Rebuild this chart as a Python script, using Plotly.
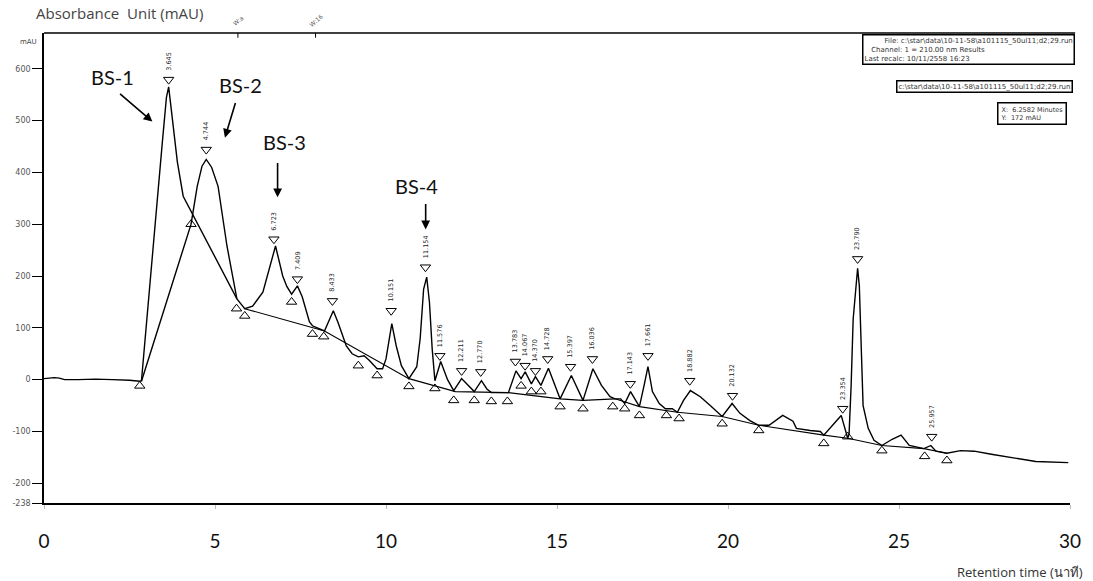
import plotly.graph_objects as go

# ---------------- data ----------------
# main chromatogram trace (minutes, mAU)
trace_t = [0.0, 0.3, 0.45, 0.6, 1.0, 1.5, 2.0, 2.3, 2.5, 2.8, 2.85, 3.46, 3.58, 3.645, 3.72, 3.9, 4.07,
           5.64, 5.87, 6.1, 6.4, 6.6, 6.77, 6.98, 7.1, 7.24, 7.41, 7.55, 7.67, 7.76, 7.85, 8.2, 8.46, 8.6,
           8.84, 9.01, 9.19, 9.36, 9.5, 9.74, 9.9, 10.0, 10.17, 10.3, 10.45, 10.67, 10.9, 11.0, 11.1,
           11.19, 11.27, 11.35, 11.43, 11.6, 11.8, 11.98, 12.21, 12.4, 12.58, 12.79, 12.95, 13.08,
           13.58, 13.8, 13.95, 14.07, 14.25, 14.37, 14.53, 14.75, 14.94, 15.09, 15.42, 15.76, 16.05,
           16.3, 16.55, 16.7, 16.86, 16.98, 17.15, 17.41, 17.55, 17.66, 17.79, 17.99, 18.17, 18.37,
           18.52, 18.7, 18.9, 19.19, 19.48, 19.83, 20.12, 20.35, 20.64, 20.9, 21.2, 21.6, 21.9, 22.0,
           22.4, 22.7, 22.8, 23.31, 23.5, 23.54, 23.6, 23.66, 23.79, 23.84, 23.9, 23.95, 24.1, 24.27,
           24.5, 24.8, 25.06, 25.3, 25.73, 25.93, 26.08, 26.4, 26.8, 27.2, 27.7, 28.4, 29.0, 29.95]
trace_v = [2, 4, 3, 0, 0, 1, 0, 0, -1, -3, -2, 458, 545, 565, 520, 420, 354,
           156, 137, 142, 169, 219, 258, 200, 180, 165, 181, 160, 131, 112, 104, 94, 133, 110,
           65, 50, 44, 46, 38, 21, 21, 40, 108, 65, 27, 2, 25, 80, 175,
           198, 150, 60, -2, 35, 0, -21, 2, -10, -23, -2, -18, -25,
           -25, 17, 2, 15, -8, 6, -11, 22, -10, -37, 8, -40, 21,
           -11, -33, -37, -37, -46, -23, -52, -10, 25, -23, -46, -56, -56,
           -63, -40, -21, -33, -50, -71, -46, -65, -79, -88, -88, -69, -80, -94,
           -98, -100, -107, -69, -113, -105, -12, 117, 215, 181, 54, -50, -94, -117,
           -127, -115, -107, -127, -133, -127, -138, -142, -137, -138, -144, -152, -158, -160]

# second overlapping trace of the first peak pair
pair_t = [2.85, 4.3, 4.48, 4.62, 4.744, 4.9, 5.09, 5.35, 5.64]
pair_v = [-3, 300, 373, 412, 425, 410, 373, 258, 156]

# integration baseline
base_t = [5.87, 8.2, 10.67, 12.03, 13.58, 15.09, 15.76, 16.7, 17.41, 18.52, 19.83, 20.9,
          22.8, 23.5, 24.5, 25.73, 26.4]
base_v = [137, 94, 2, -23, -25, -37, -40, -37, -52, -63, -71, -88,
          -107, -113, -127, -133, -142]

# peak markers (apex flags) and retention-time labels
peak_t = [3.645, 4.744, 6.723, 7.409, 8.433, 10.151, 11.154, 11.576, 12.211, 12.770, 13.783,
          14.067, 14.370, 14.728, 15.397, 16.036, 17.143, 17.661, 18.882, 20.132, 23.354,
          23.790, 25.957]
peak_v = [579, 444, 271, 194, 152, 133, 217, 46, 17, 15, 35,
          27, 17, 40, 25, 40, -8, 46, -2, -31, -56,
          233, -110]
peak_labels = ["3.645", "4.744", "6.723", "7.409", "8.433", "10.151", "11.154", "11.576",
               "12.211", "12.770", "13.783", "14.067", "14.370", "14.728", "15.397", "16.036",
               "17.143", "17.661", "18.882", "20.132", "23.354", "23.790", "25.957"]

# peak start / end markers
edge_t = [2.8, 4.3, 5.63, 5.87, 7.24, 7.85, 8.18, 9.19, 9.74, 10.67, 11.43, 11.98, 12.58,
          13.08, 13.55, 13.95, 14.25, 14.53, 15.09, 15.76, 16.63, 16.98, 17.41, 18.2, 18.57,
          19.83, 20.9, 22.8, 23.5, 24.5, 25.75, 26.4]
edge_v = [-12, 300, 137, 123, 150, 88, 83, 27, 8, -13, -17, -40, -40,
          -42, -42, -12, -23, -23, -52, -56, -52, -56, -69, -69, -75,
          -85, -98, -123, -110, -137, -148, -156]

y_ticks = [-238, -200, -100, 0, 100, 200, 300, 400, 500, 600]
x_ticks = [0, 5, 10, 15, 20, 25, 30]

compounds = ["BS-1", "BS-2", "BS-3", "BS-4"]
comp_text_t = [2.0, 5.76, 7.03, 10.9]
comp_text_v = [585, 569, 458, 373]
comp_tail_t = [2.18, 5.61, 6.83, 11.16]
comp_tail_v = [554, 537, 421, 342]
comp_head_t = [3.17, 5.29, 6.83, 11.16]
comp_head_v = [498, 467, 352, 290]

# ---------------- figure ----------------
fig = go.Figure()
line_style = dict(color="black", width=1.4)
fig.add_trace(go.Scatter(x=base_t, y=base_v, mode="lines",
                         line=dict(color="black", width=1.1), hoverinfo="skip"))
fig.add_trace(go.Scatter(x=trace_t, y=trace_v, mode="lines", line=line_style))
fig.add_trace(go.Scatter(x=pair_t, y=pair_v, mode="lines", line=line_style))
fig.add_trace(go.Scatter(x=peak_t, y=peak_v, mode="markers",
                         marker=dict(symbol="triangle-down-open", size=9,
                                     color="black", line=dict(width=1))))
fig.add_trace(go.Scatter(x=edge_t, y=edge_v, mode="markers",
                         marker=dict(symbol="triangle-up-open", size=9,
                                     color="black", line=dict(width=1))))

ann = []
for t, v, lab in zip(peak_t, peak_v, peak_labels):
    ann.append(dict(x=t, y=v, text=lab, textangle=-90, showarrow=False,
                    xanchor="center", yanchor="bottom", yshift=7,
                    font=dict(size=6.5, color="#222", family="DejaVu Sans")))

for name, tx, ty, at, av, ht, hv in zip(compounds, comp_text_t, comp_text_v,
                                          comp_tail_t, comp_tail_v, comp_head_t, comp_head_v):
    ann.append(dict(x=tx, y=ty, text=name, showarrow=False,
                    font=dict(size=20, color="#111", family="Lato")))
    ann.append(dict(x=ht, y=hv, ax=at, ay=av, axref="x", ayref="y", text="",
                    showarrow=True, arrowhead=2, arrowsize=1.1, arrowwidth=1.6,
                    arrowcolor="black"))

box_font = dict(size=7, color="#333", family="DejaVu Sans")
small_box_font = dict(size=6.5, color="#333", family="DejaVu Sans")
ann += [
    dict(xref="paper", yref="paper", x=-0.01, y=1.0, yshift=8, xanchor="left", yanchor="bottom",
         text="Absorbance  Unit (mAU)", showarrow=False,
         font=dict(size=15, color="#444", family="Open Sans")),
    dict(xref="paper", yref="paper", x=-0.005, y=1.0, yshift=-3, xanchor="right", yanchor="top",
         text="mAU", showarrow=False, font=dict(size=7, color="#444", family="DejaVu Sans")),
    dict(x=5.67, y=669, yshift=13, text="W:a", textangle=-40, showarrow=False,
         font=dict(size=6, color="#555", family="DejaVu Sans")),
    dict(x=7.94, y=669, yshift=13, text="W:16", textangle=-40, showarrow=False,
         font=dict(size=6, color="#555", family="DejaVu Sans")),
    dict(xref="paper", yref="paper", x=1.0, y=0, xanchor="right", yanchor="top", xshift=15,
         yshift=-58, text="Retention time (นาที)", showarrow=False,
         font=dict(size=13, color="#333", family="Open Sans, Noto Sans")),
    dict(xref="paper", yref="paper", x=1.0, y=1.0, xanchor="right", yanchor="top", xshift=5,
         yshift=-1, align="left", bordercolor="black", borderwidth=1.5, borderpad=1,
         bgcolor="white",
         text="&nbsp;&nbsp;&nbsp;&nbsp;&nbsp;&nbsp;&nbsp;&nbsp;&nbsp;File: c:\\star\\data\\10-11-58\\a101115_50ul11;d2;29.run<br>"
              "&nbsp;&nbsp;&nbsp;Channel: 1 = 210.00 nm Results<br>Last recalc: 10/11/2558 16:23",
         showarrow=False, font=box_font),
    dict(xref="paper", yref="paper", x=1.0, y=1.0, xanchor="right", yanchor="top", xshift=3,
         yshift=-47, bordercolor="black", borderwidth=1.5, borderpad=1, bgcolor="white",
         text="c:\\star\\data\\10-11-58\\a101115_50ul11;d2;29.run",
         showarrow=False, font=box_font),
    dict(xref="paper", yref="paper", x=1.0, y=1.0, xanchor="right", yanchor="top", xshift=-3,
         yshift=-69, align="left", bordercolor="black", borderwidth=1.5, borderpad=2,
         bgcolor="white", text="X:  6.2582 Minutes<br>Y:  172 mAU",
         showarrow=False, font=small_box_font),
]

fig.update_layout(
    width=1093, height=581,
    margin=dict(l=43, r=18, t=33, b=78),
    plot_bgcolor="white", paper_bgcolor="white",
    showlegend=False,
    annotations=ann,
    shapes=[dict(type="line", xref="paper", yref="paper", x0=0, x1=1.005, y0=1, y1=1,
                 line=dict(color="black", width=1.5)),
            dict(type="line", xref="x", yref="paper", x0=5.67, x1=5.67, y0=1, y1=0.99,
                 line=dict(color="black", width=1)),
            dict(type="line", xref="x", yref="paper", x0=7.94, x1=7.94, y0=1, y1=0.99,
                 line=dict(color="black", width=1))],
    xaxis=dict(range=[0, 30], tickvals=x_ticks, showgrid=False, zeroline=False,
               showline=True, linecolor="black", linewidth=1.5,
               ticks="outside", ticklen=4, tickcolor="#bbb", ticklabelstandoff=16,
               tickfont=dict(size=19, color="#111", family="Lato")),
    yaxis=dict(range=[-238, 669], tickvals=y_ticks, ticktext=[str(v) for v in y_ticks],
               showgrid=False, zeroline=False, showline=True, linecolor="black",
               linewidth=1.5, ticks="outside", ticklen=10, tickcolor="black",
               tickfont=dict(size=8, color="#555", family="DejaVu Sans")),
)

fig.write_html("out.html")
